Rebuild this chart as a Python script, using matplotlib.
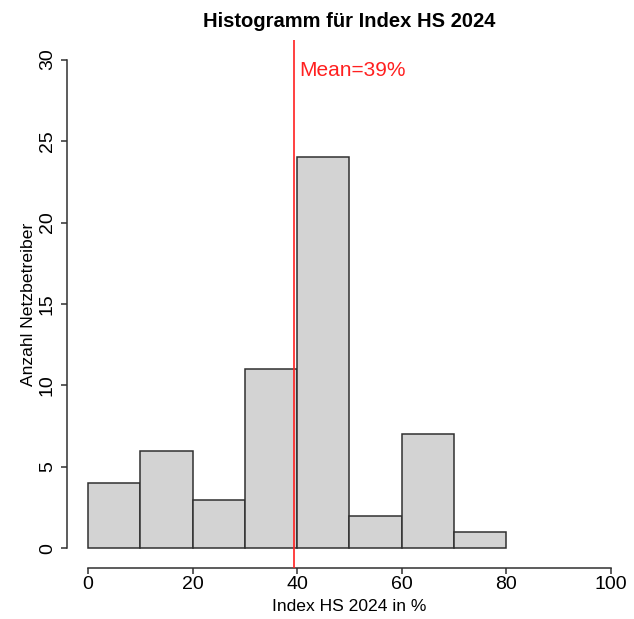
import matplotlib
matplotlib.use("Agg")
from matplotlib import pyplot as plt
import numpy as np

BIN_EDGES = [0, 10, 20, 30, 40, 50, 60, 70, 80]
COUNTS = [4, 6, 3, 11, 24, 2, 7, 1]
MEAN_VALUE = 39.4
X_TICKS = [0, 20, 40, 60, 80, 100]
Y_TICKS = [0, 5, 10, 15, 20, 25, 30]

plt.rcParams["font.family"] = ["Liberation Sans", "DejaVu Sans"]


def main():
    fig = plt.figure(figsize=(6.34, 6.19), dpi=100)
    ax = fig.add_axes([0.1057, 0.0824, 0.8911, 0.853])

    edges = np.array(BIN_EDGES)
    ax.bar(
        edges[:-1],
        COUNTS,
        width=np.diff(edges),
        align="edge",
        color="#D3D3D3",
        edgecolor="#303030",
        linewidth=1.1,
        zorder=2,
    )
    ax.axvline(MEAN_VALUE, color="#FF2020", linewidth=1.2, zorder=3)
    ax.text(
        MEAN_VALUE + 0.9,
        29.35,
        f"Mean={MEAN_VALUE:.0f}%",
        color="#FF2020",
        fontsize=15,
        ha="left",
        va="center",
    )

    # R-like axes: 4% padding, axis lines only over the tick range
    ax.set_xlim(-4, 104)
    ax.set_ylim(-1.2, 31.2)
    for side in ["top", "right"]:
        ax.spines[side].set_visible(False)
    ax.spines["bottom"].set_bounds(0, 100)
    ax.spines["left"].set_bounds(0, 30)
    for side in ["bottom", "left"]:
        ax.spines[side].set_color("#303030")
        ax.spines[side].set_linewidth(1.1)

    ax.set_xticks(X_TICKS)
    ax.set_yticks(Y_TICKS)
    ax.tick_params(axis="both", length=4, width=1.1, color="#303030", labelsize=14)
    ax.tick_params(axis="x", pad=1.5)
    ax.tick_params(axis="y", pad=4, labelrotation=90)
    for lab in ax.get_yticklabels():
        lab.set_va("center")

    ax.set_xlabel("Index HS 2024 in %", fontsize=12.6, labelpad=4.5)
    ax.set_ylabel("Anzahl Netzbetreiber", fontsize=12.6, labelpad=2)
    ax.set_title("Histogramm für Index HS 2024", fontsize=14.5, fontweight="bold", pad=9.5)

    fig.savefig("out.png", dpi=100)
    plt.close(fig)


if __name__ == "__main__":
    main()
